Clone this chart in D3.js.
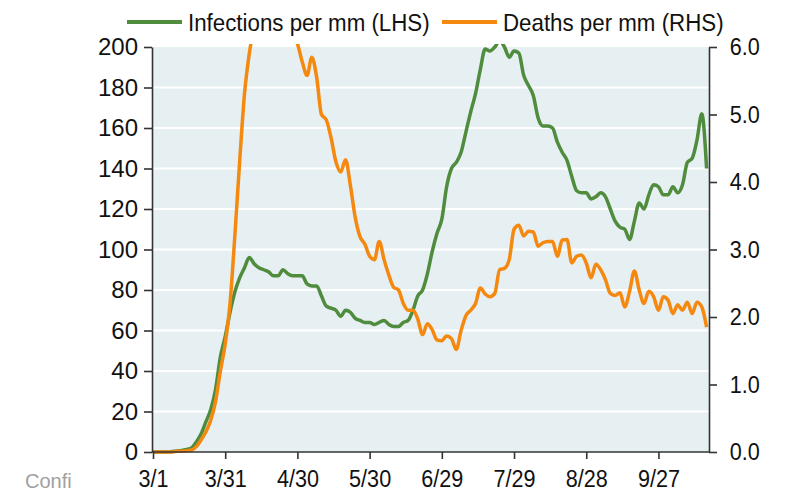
<!DOCTYPE html>
<html>
<head>
<meta charset="utf-8">
<script src="https://cdn.jsdelivr.net/npm/d3@7"></script>
<style>
  body { margin: 0; background: #fff; }
  text { font-family: "Liberation Sans", Arial, sans-serif; fill: #111; }
</style>
</head>
<body>
<div id="chart"></div>
<script>
// dates every 2 days from 3/1 (last reading 10/17)
const dates = d3.timeDay.range(new Date(2020, 2, 1), new Date(2020, 9, 18), 2);

// infections per mm (LHS)
const infections = [
  0, 0, 0, 0, 0.3, 0.5, 0.8, 1.2, 2, 5,
  9, 15, 21, 31, 47, 57, 69, 79, 86, 91,
  96, 93, 91, 90, 89, 87, 87, 90, 88, 87,
  87, 87, 83, 82, 82, 77, 72, 71, 70, 67,
  70, 69, 66, 65, 64, 64, 63, 64, 65, 63,
  62, 62, 64, 65, 70, 77, 80, 88, 99, 108,
  115, 131, 140, 143, 148, 158, 168, 177, 189, 199,
  198, 200, 203, 200, 195, 198, 197, 186, 181, 176,
  165, 161, 161, 160, 153, 148, 144, 136, 129, 128,
  128, 125, 126, 128, 126, 120, 114, 111, 110, 105,
  114, 123, 120, 127, 132, 131, 127, 127, 131, 128,
  132, 143, 145, 154, 167, 140
];

// deaths per mm (RHS)
const deaths = [
  0, 0, 0, 0, 0, 0.01, 0.01, 0.02, 0.03, 0.08,
  0.18, 0.3, 0.47, 0.75, 1.2, 1.6, 2.2, 3.2, 4.3, 5.3,
  5.9, 6.3, 6.6, 6.8, 6.9, 6.9, 6.8, 6.6, 6.4, 6.2,
  6.05, 5.78, 5.58, 5.85, 5.55, 5.0, 4.92, 4.65, 4.3, 4.15,
  4.33, 3.95, 3.48, 3.19, 3.08, 2.9, 2.85, 3.12, 2.85, 2.62,
  2.44, 2.4, 2.2, 2.1, 2.1, 1.97, 1.74, 1.9, 1.81, 1.66,
  1.65, 1.72, 1.68, 1.52, 1.8, 2.02, 2.1, 2.2, 2.43, 2.34,
  2.3, 2.35, 2.7, 2.72, 2.85, 3.3, 3.36, 3.2, 3.27, 3.26,
  3.05, 3.1, 3.12, 3.12, 2.9, 3.14, 3.15, 2.8, 2.9, 2.92,
  2.8, 2.58, 2.78, 2.7, 2.55, 2.35, 2.32, 2.36, 2.15, 2.38,
  2.68, 2.4, 2.2, 2.38, 2.3, 2.1, 2.3, 2.25, 2.05, 2.18,
  2.1, 2.22, 2.05, 2.22, 2.15, 1.85
];

const leftTicks = [0, 20, 40, 60, 80, 100, 120, 140, 160, 180, 200];
const rightTicks = [0, 1, 2, 3, 4, 5, 6];
const xTickLabels = ["3/1", "3/31", "4/30", "5/30", "6/29", "7/29", "8/28", "9/27"];

const width = 789, height = 491;
const margin = {top: 47, right: 80, bottom: 39, left: 152};
const green = "#4f8c3d", orange = "#f5880f";

const svg = d3.select("#chart").append("svg")
    .attr("width", width)
    .attr("height", height);

const x = d3.scaleTime()
    .domain([new Date(2020, 2, 1), new Date(2020, 9, 18)])
    .range([margin.left + 1, width - margin.right]);
const yL = d3.scaleLinear().domain([0, 200]).range([height - margin.bottom, margin.top]);
const yR = d3.scaleLinear().domain([0, 6]).range([height - margin.bottom, margin.top]);

const x0 = x.range()[0], x1 = x.range()[1];
const yTop = margin.top, yBot = height - margin.bottom;

// plot background
svg.append("rect")
    .attr("x", x0).attr("y", yTop)
    .attr("width", x1 - x0).attr("height", yBot - yTop)
    .attr("fill", "#e6eff2");

// gridlines
svg.append("g").selectAll("line")
    .data(leftTicks.slice(1, -1))
    .enter().append("line")
    .attr("x1", x0).attr("x2", x1)
    .attr("y1", d => yL(d)).attr("y2", d => yL(d))
    .attr("stroke", "#fff")
    .attr("stroke-width", 2);

svg.append("clipPath").attr("id", "clip")
  .append("rect")
    .attr("x", x0).attr("y", yTop - 3)
    .attr("width", x1 - x0 + 2).attr("height", yBot - yTop + 6);

const lineL = d3.line().x((d, i) => x(dates[i])).y(d => yL(d)).curve(d3.curveMonotoneX);
const lineR = d3.line().x((d, i) => x(dates[i])).y(d => yR(d)).curve(d3.curveMonotoneX);

const plot = svg.append("g").attr("clip-path", "url(#clip)");
plot.append("path")
    .datum(infections)
    .attr("d", lineL)
    .attr("fill", "none")
    .attr("stroke", green)
    .attr("stroke-width", 3.5)
    .attr("stroke-linejoin", "round");
plot.append("path")
    .datum(deaths)
    .attr("d", lineR)
    .attr("fill", "none")
    .attr("stroke", orange)
    .attr("stroke-width", 3.5)
    .attr("stroke-linejoin", "round");

// axes (right/bottom labels are a slightly narrow face in the source)
const squeeze = "scale(0.9,1)";

const leftAxis = svg.append("g")
    .attr("transform", `translate(${margin.left},0)`)
    .call(d3.axisLeft(yL).tickValues(leftTicks).tickSize(8).tickPadding(6).tickSizeOuter(0));

const rightAxis = svg.append("g")
    .attr("transform", `translate(${x1},0)`)
    .call(d3.axisRight(yR).tickValues(rightTicks).tickSize(8).tickPadding(15)
      .tickFormat(d3.format(".1f")).tickSizeOuter(0));

const xTickDates = xTickLabels.map(s => {
  const [m, d] = s.split("/").map(Number);
  return new Date(2020, m - 1, d);
});
const bottomAxis = svg.append("g")
    .attr("transform", `translate(0,${yBot})`)
    .call(d3.axisBottom(x).tickValues(xTickDates).tickSize(7).tickPadding(11)
      .tickFormat((d, i) => xTickLabels[i]).tickSizeOuter(0));
bottomAxis.select(".domain").attr("d", `M${margin.left},0H${x1}`);

[leftAxis, rightAxis, bottomAxis].forEach(g => {
  g.select(".domain").attr("stroke", "#333").attr("stroke-width", 1.6);
  g.selectAll(".tick line").attr("stroke", "#333").attr("stroke-width", 1.6);
  g.selectAll(".tick text")
    .attr("font-size", 24)
    .attr("fill", "#111")
    .attr("transform", squeeze);
});
leftAxis.selectAll(".tick text").attr("transform", null);

// legend
const legend = svg.append("g");
const items = [
  {label: "Infections per mm (LHS)", color: green, x: 127},
  {label: "Deaths per mm (RHS)", color: orange, x: 442}
];
items.forEach(it => {
  legend.append("line")
    .attr("x1", it.x).attr("x2", it.x + 55)
    .attr("y1", 22).attr("y2", 22)
    .attr("stroke", it.color)
    .attr("stroke-width", 4);
  legend.append("text")
    .attr("transform", `translate(${it.x + 61},31) scale(0.93,1)`)
    .attr("font-size", 24)
    .text(it.label);
});

// footer text (mostly hidden under the chart edge in the source)
svg.append("text")
    .attr("x", 25).attr("y", 488)
    .attr("font-size", 20)
    .style("fill", "#a0a0a0")
    .text("Confi");
</script>
</body>
</html>
